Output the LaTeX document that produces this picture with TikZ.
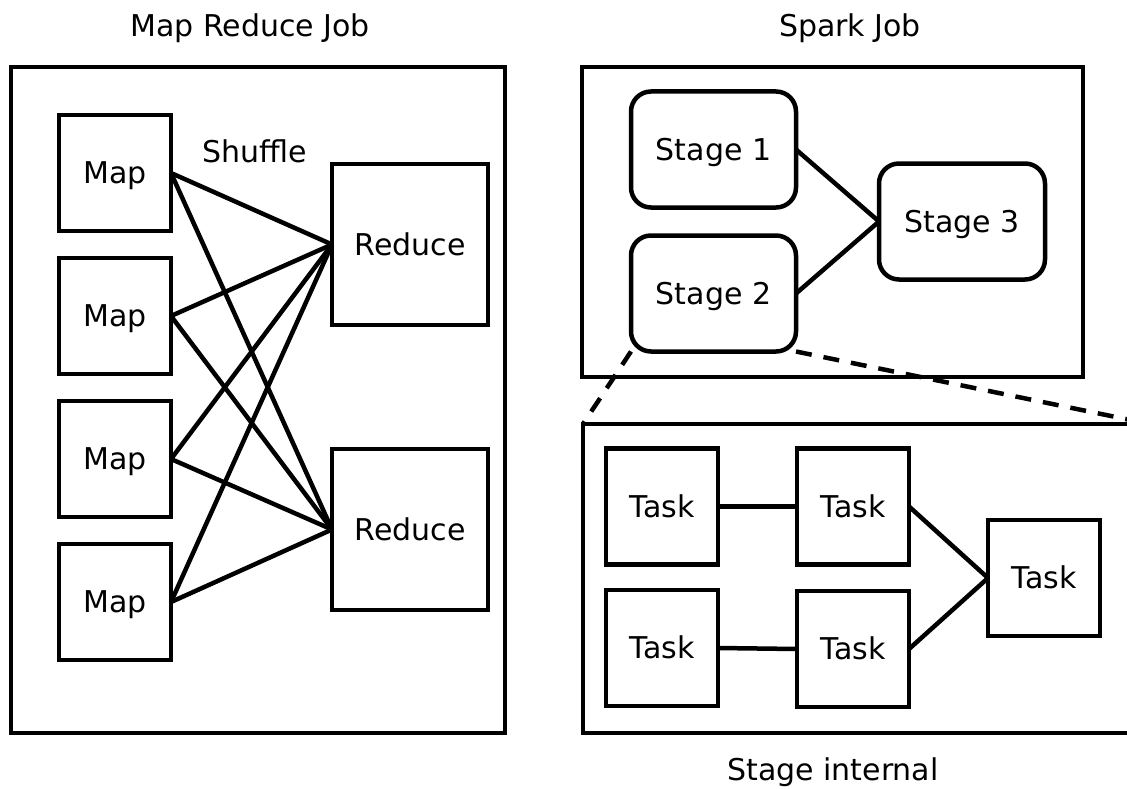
\documentclass[tikz,border=0pt]{standalone}
\usepackage{fontspec}
\setmainfont{DejaVu Sans}
\begin{document}
\begin{tikzpicture}[x=1pt,y=-1pt,
  every node/.style={font=\fontsize{30}{36}\selectfont, inner sep=0pt, outer sep=0pt},
  frame/.style={draw, line width=4.5pt, rectangle},
  box/.style={draw, line width=4.5pt, rectangle, text height=21.9pt, text depth=0pt},
  mapbox/.style={box, minimum width=112pt, minimum height=116pt},
  redbox/.style={box, minimum width=156pt, minimum height=161pt},
  stagebox/.style={box, rounded corners=20pt, minimum width=165pt, minimum height=116pt},
  taskbox/.style={box, minimum width=112pt, minimum height=116pt},
  link/.style={line width=4.5pt},
  zoomline/.style={line width=4.5pt, dash pattern=on 16pt off 12pt},
  title/.style={anchor=base}
]
\useasboundingbox (0,0) rectangle (1127,789);
\clip (0,0) rectangle (1127,789);
\fill[white] (0,0) rectangle (1127,789);

% Map Reduce job
\node[frame, minimum width=494pt, minimum height=666pt] (mrjob) at (258,400) {};
\node[title] (mrtitle) at (250,37) {Map Reduce Job};
\node[title] (shuffle) at (255,162) {Shuffle};
\node[mapbox] (m1) at (115,173) {Map};
\node[mapbox] (m2) at (115,316) {Map};
\node[mapbox] (m3) at (115,459) {Map};
\node[mapbox] (m4) at (115,602) {Map};
\node[redbox] (r1) at (410,244.5) {Reduce};
\node[redbox] (r2) at (410,529.5) {Reduce};
\foreach \m in {m1,m2,m3,m4}{
  \foreach \r in {r1,r2}{
    \draw[link] (\m.east) -- (\r.west);
  }
}

% Spark job
\node[frame, minimum width=501pt, minimum height=310pt] (spark) at (832.5,222) {};
\node[title] (sparktitle) at (850,37) {Spark Job};
\node[stagebox] (s1) at (713.5,149.5) {Stage 1};
\node[stagebox] (s2) at (713.5,293.5) {Stage 2};
\node[stagebox, minimum width=166pt] (s3) at (962,221.5) {Stage 3};
\draw[link] (s1.east) -- (s3.west);
\draw[link] (s2.east) -- (s3.west);

% Stage internal
\node[frame, minimum width=567pt, minimum height=309pt] (internal) at (866.5,578.5) {};
\node[title] (inttitle) at (833,780) {Stage internal};
\draw[zoomline] (s2.south west) -- (internal.north west);
\draw[zoomline] (s2.south east) -- (internal.north east);
\node[taskbox] (t1) at (662,506.5) {Task};
\node[taskbox] (t2) at (853,506.5) {Task};
\node[taskbox] (t3) at (662,648) {Task};
\node[taskbox] (t4) at (853,649) {Task};
\node[taskbox] (t5) at (1044,578) {Task};
\draw[link] (t1.east) -- (t2.west);
\draw[link] (t3.east) -- (t4.west);
\draw[link] (t2.east) -- (t5.west);
\draw[link] (t4.east) -- (t5.west);
\end{tikzpicture}
\end{document}
